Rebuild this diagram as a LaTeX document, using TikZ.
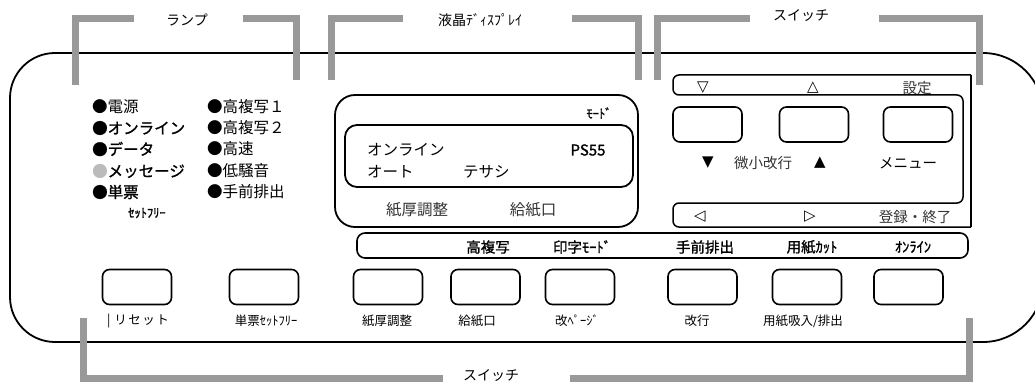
\documentclass[tikz,border=0pt]{standalone}
\usepackage{fontspec}
\setmainfont{Noto Sans CJK JP}
\newfontfamily\jpmed[FakeBold=1.2]{Noto Sans CJK JP}
\newfontfamily\sym{DejaVu Sans}
\definecolor{brk}{HTML}{999999}
\definecolor{dim}{HTML}{BBBBBB}
\begin{document}
\begin{tikzpicture}[x=1pt,y=-1pt,
  bracket/.style={line width=7pt, draw=brk, line join=miter},
  panel/.style={line width=1.8pt, draw=black},
  btn/.style={draw, line width=1.6pt, rounded corners=7pt, minimum width=69pt, minimum height=35pt, inner sep=0pt},
  lamp/.style={anchor=west, inner sep=0pt, font=\fontsize{15.5}{17}\selectfont},
  lampb/.style={anchor=west, inner sep=0pt, font=\jpmed\fontsize{15.5}{17}\selectfont},
  disp/.style={inner sep=0pt, font=\fontsize{15.5}{17}\selectfont},
  head/.style={inner sep=0pt, font=\fontsize{14}{16}\selectfont},
  lbl/.style={inner sep=0pt, font=\fontsize{12.5}{14}\selectfont},
  lblb/.style={inner sep=0pt, font=\jpmed\fontsize{12.5}{14}\selectfont},
  fn/.style={inner sep=0pt, font=\jpmed\fontsize{14.5}{16}\selectfont},
  sw/.style={inner sep=0pt, font=\fontsize{14.5}{16}\selectfont},
  tri/.style={inner sep=0pt, font=\sym\fontsize{15}{17}\selectfont}]
\useasboundingbox (0,0) rectangle (1035,385);
% outer panel
\draw[panel, rounded corners=45pt] (520,53) -- (10,53) -- (10,342) -- (520,342);
\draw[panel, rounded corners=60pt] (520,53) -- (1043,53) -- (1043,342) -- (520,342);
% brackets
\draw[bracket] (75,85) -- (75,19) -- (134,19);
\draw[bracket] (243,19) -- (296,19) -- (296,80);
\draw[bracket] (331,80) -- (331,19) -- (403,19);
\draw[bracket] (572,19) -- (638,19) -- (638,80);
\draw[bracket] (657,80) -- (657,19) -- (750,19);
\draw[bracket] (879,19) -- (979,19) -- (979,85);
\draw[bracket] (83,318) -- (83,378.5) -- (443,378.5);
\draw[bracket] (570,378.5) -- (969,378.5) -- (969,318);
\node[head] (hLamp) at (187,20) {ランプ};
\node[head] (hLcd) at (480,20) {液晶ﾃﾞｨｽﾌﾟﾚｲ};
\node[head] (hSw) at (801,16) {スイッチ};
\node[head] (hSw2) at (491,376) {スイッチ};
% lamps
\node[lamp] (l1) at (92,107) {●電源};
\node[lampb] (l2) at (92,128) {●オンライン};
\node[lampb] (l3) at (92,149) {●データ};
\node[lampb] (l4) at (92,171) {\textcolor{dim}{●}メッセージ};
\node[lampb] (l5) at (92,192) {●単票};
\node[lblb] (l6) at (147,213) {ｾｯﾄﾌﾘｰ};
\node[lamp] (r1) at (207,107) {●高複写１};
\node[lamp] (r2) at (207,128) {●高複写２};
\node[lamp] (r3) at (207,149) {●高速};
\node[lamp] (r4) at (207,171) {●低騒音};
\node[lamp] (r5) at (207,192) {●手前排出};
% display
\draw[panel, rounded corners=20pt] (335,95) rectangle (638,227);
\draw[panel, rounded corners=12pt] (345,125) rectangle (633,187);
\node[lblb] (dMode) at (599,113) {ﾓｰﾄﾞ};
\node[disp, anchor=west] (d1) at (367,150) {オンライン};
\node[disp, font=\jpmed\fontsize{15}{17}\selectfont] (d2) at (588,150) {PS55};
\node[disp, anchor=west] (d3) at (367,172) {オート};
\node[disp, anchor=west] (d4) at (463,172) {テサシ};
\node[disp, text=black!80] (d5) at (417,210) {紙厚調整};
\node[disp, text=black!80] (d6) at (533,210) {給紙口};
% right switch panel
\draw[line width=1.5pt, rounded corners=6pt] (971,75) -- (673,75) -- (673,95) -- (963,95) -- (963,203) -- (673,203) -- (673,227) -- (971,227);
\draw[line width=1.2pt] (971,75) -- (971,227);
\node[tri] (t1) at (703,88) {▽};
\node[tri] (t2) at (813,88) {△};
\node[sw, text=black!80] (t3) at (917,88) {設定};
\node[btn] (s1) at (707.5,124.5) {};
\node[btn] (s2) at (814,124.5) {};
\node[btn] (s3) at (918,124.5) {};
\node[tri] (m1) at (708,163) {▼};
\node[sw, text=black!80] (m2) at (763,163) {微小改行};
\node[tri] (m3) at (820,163) {▲};
\node[sw] (m4) at (908,163) {メニュー};
\node[tri] (u1) at (700,217) {◁};
\node[tri] (u2) at (810,217) {▷};
\node[sw, text=black!80] (u3) at (915,217) {登録・終了};
% function bar
\draw[line width=1.6pt, rounded corners=8pt] (357,233) rectangle (968,258);
\node[fn] (f1) at (488,247) {高複写};
\node[fn] (f2) at (582,247) {印字ﾓｰﾄﾞ};
\node[fn] (f3) at (705,247) {手前排出};
\node[fn] (f4) at (812,247) {用紙ｶｯﾄ};
\node[fn] (f5) at (913,247) {ｵﾝﾗｲﾝ};
% bottom buttons
\node[btn] (b1) at (137,287) {};
\node[btn] (b2) at (264,287) {};
\node[btn] (b3) at (388,287) {};
\node[btn] (b4) at (485.5,287) {};
\node[btn] (b5) at (580,287) {};
\node[btn] (b6) at (702.5,287) {};
\node[btn] (b7) at (807,287) {};
\node[btn] (b8) at (908.5,287) {};
\node[lbl] (c1) at (138,321) {|\hspace{4pt}リ\hspace{1.5pt}セ\hspace{1.5pt}ッ\hspace{1.5pt}ト};
\node[lbl] (c2) at (266,321) {単票ｾｯﾄﾌﾘｰ};
\node[lbl] (c3) at (387,321) {紙厚調整};
\node[lbl] (c4) at (477,321) {給紙口};
\node[lbl] (c5) at (577,321) {改ﾍﾟｰｼﾞ};
\node[lbl] (c6) at (697,321) {改行};
\node[lbl] (c7) at (803,321) {用紙吸入/排出};
\end{tikzpicture}
\end{document}
